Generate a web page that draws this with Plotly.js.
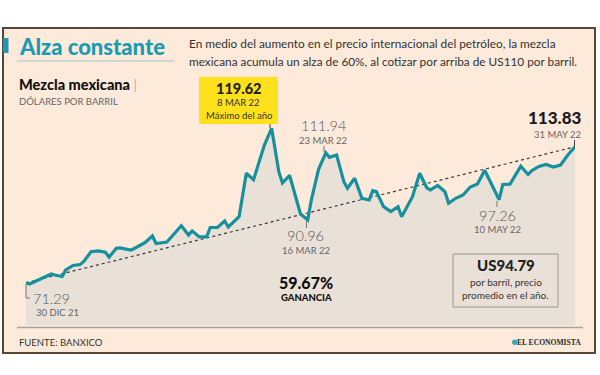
<!DOCTYPE html>
<html><head><meta charset="utf-8">
<script src="https://cdn.plot.ly/plotly-3.0.1.min.js"></script>
<style>html,body{margin:0;padding:0;background:#fff;}</style>
</head><body><div id="chart" style="width:600px;height:375px;"></div>
<script>
const dates = ['2021-12-30','2021-12-31','2022-01-03','2022-01-06','2022-01-07','2022-01-09','2022-01-10','2022-01-12','2022-01-14','2022-01-15',
'2022-01-17','2022-01-19','2022-01-21','2022-01-22','2022-01-24','2022-01-25','2022-01-28','2022-01-29','2022-01-31','2022-02-01',
'2022-02-03','2022-02-04','2022-02-07','2022-02-11','2022-02-13','2022-02-14','2022-02-16','2022-02-18','2022-02-19','2022-02-21',
'2022-02-23','2022-02-24','2022-02-27','2022-03-01','2022-03-03','2022-03-06','2022-03-08','2022-03-10','2022-03-11','2022-03-13',
'2022-03-16','2022-03-18','2022-03-19','2022-03-21','2022-03-23','2022-03-24','2022-03-26','2022-03-28','2022-03-29','2022-03-31',
'2022-04-02','2022-04-04','2022-04-05','2022-04-06','2022-04-08','2022-04-10','2022-04-12','2022-04-13','2022-04-16','2022-04-18',
'2022-04-20','2022-04-21','2022-04-23','2022-04-25','2022-04-26','2022-04-28','2022-04-30','2022-05-02','2022-05-04','2022-05-06',
'2022-05-10','2022-05-11','2022-05-13','2022-05-15','2022-05-16','2022-05-18','2022-05-19','2022-05-21','2022-05-23','2022-05-25',
'2022-05-27','2022-05-29','2022-05-31'];
const values = [71.29,70.89,72.45,74.02,73.70,73.24,75.27,76.68,76.99,77.93,
81.00,81.22,80.81,79.28,82.06,82.16,81.53,82.00,83.25,83.88,
85.91,83.56,84.03,89.14,86.22,87.48,85.60,85.60,88.57,88.57,
90.61,88.73,91.95,105.54,103.53,114.39,119.62,106.04,102.50,104.85,
92.80,90.96,97.18,106.79,111.94,110.54,111.26,102.91,100.84,103.97,
97.71,97.18,100.09,99.78,95.08,93.58,95.08,91.95,98.21,105.54,
100.93,100.31,101.72,99.78,96.15,97.71,98.74,101.25,102.19,106.47,
97.26,102.03,102.12,106.04,107.73,105.16,106.35,107.66,108.29,107.51,
108.13,111.26,113.83];

const title = 'Alza constante';
const subtitle = ['En medio del aumento en el precio internacional del petróleo, la mezcla',
                  'mexicana acumula un alza de 60%, al cotizar por arriba de US110 por barril.'];
const seriesName = 'Mezcla mexicana';
const unitLabel = 'DÓLARES POR BARRIL';
const maxLabel = ['119.62','8 MAR 22','Máximo del año'];
const labelMar23 = ['111.94','23 MAR 22'];
const labelMar16 = ['90.96','16 MAR 22'];
const labelMay10 = ['97.26','10 MAY 22'];
const labelEnd = ['113.83','31 MAY 22'];
const labelStart = ['71.29','30 DIC 21'];
const gainLabel = ['59.67%','GANANCIA'];
const avgLabel = ['US94.79','por barril, precio','promedio en el año.'];
const source = 'FUENTE: BANXICO';
const brand = 'EL ECONOMISTA';

const W = 600, H = 375;
const M = {l:26, r:25, t:100, b:50};
const pw = W - M.l - M.r, ph = H - M.t - M.b;
const px = X => (X - M.l) / pw;
const py = Y => (H - M.b - Y) / ph;

const TEAL = '#17909d';
const FF = 'Lato, "Noto Sans", sans-serif';

const traces = [
  {x: dates, y: values, type: 'scatter', mode: 'lines', fill: 'tozeroy',
   fillcolor: '#e9e1d8', line: {width: 0, color: 'rgba(0,0,0,0)'}, hoverinfo: 'skip'},
  {x: [dates[0], dates[dates.length-1]], y: [values[0], values[values.length-1]],
   type: 'scatter', mode: 'lines', line: {color: '#3a3a3a', width: 1.2, dash: 'dot'}, hoverinfo: 'skip'},
  {x: dates, y: values, type: 'scatter', mode: 'lines',
   line: {color: TEAL, width: 3.2, shape: 'linear'}}
];

function ann(text, X, Y, size, o) {
  o = o || {};
  return {text: text, x: px(X), y: py(Y), xref: 'paper', yref: 'paper', showarrow: false,
    xanchor: o.xa || 'center', yanchor: 'middle',
    font: {family: o.family || FF, size: size, color: o.color || '#222', weight: o.weight || 400}};
}
function rect(x0, y0, x1, y1, fill, line, lw, layer) {
  return {type: 'rect', xref: 'paper', yref: 'paper', x0: px(x0), x1: px(x1), y0: py(y0), y1: py(y1),
    fillcolor: fill, line: {color: line || 'rgba(0,0,0,0)', width: lw || 0}, layer: layer || 'below'};
}
function seg(x0, y0, x1, y1, color, w) {
  return {type: 'line', xref: 'paper', yref: 'paper', x0: px(x0), x1: px(x1), y0: py(y0), y1: py(y1),
    line: {color: color, width: w}, layer: 'above'};
}

const shapes = [
  rect(3, 28, 595, 353, '#fdeada', '#5b4636', 2),
  rect(3, 38, 8.5, 53, '#1a9bb3', null, 0, 'above'),
  seg(17, 61, 174, 61, '#9fc7cc', 1),
  seg(17, 327.5, 583, 327.5, '#aaa39b', 1.5),
  rect(199, 77, 278, 124, '#ffe11b', null, 0, 'above'),
  rect(453, 254, 558, 307, 'rgba(0,0,0,0)', '#9a948e', 1, 'above'),
  seg(270, 124, 270, 128, '#444', 1),
  seg(324, 146, 324, 152, '#777', 1),
  seg(306.5, 221, 306.5, 228, '#777', 1),
  seg(497, 201, 497, 207, '#777', 1),
  seg(574.5, 140, 574.5, 146, '#444', 1),
  seg(26, 284, 26, 298, '#777', 1),
  seg(26, 298, 30, 298, '#777', 1),
  {type: 'circle', xref: 'paper', yref: 'paper', x0: px(512), x1: px(517.5), y0: py(345), y1: py(339.5),
   fillcolor: '#3aa8b5', line: {width: 0}, layer: 'above'}
];

const annotations = [
  ann(title, 17, 46, 22, {xa: 'left', color: '#1a9bb3', weight: 900}),
  ann(subtitle[0], 187, 44, 11.8, {xa: 'left', color: '#333'}),
  ann(subtitle[1], 187, 61, 11.8, {xa: 'left', color: '#333'}),
  ann(seriesName + ' <span style="color:#888;font-weight:300">|</span>', 17, 84, 14.5, {xa: 'left', color: '#111', weight: 900}),
  ann(unitLabel, 17, 101, 9.5, {xa: 'left', color: '#666'}),
  ann(maxLabel[0], 238.5, 88, 14.5, {weight: 900, color: '#222'}),
  ann(maxLabel[1], 238.5, 102.5, 9.5, {color: '#333'}),
  ann(maxLabel[2], 238.5, 115, 9.5, {color: '#333'}),
  ann(labelMar23[0], 323, 125.5, 14.5, {color: '#555', weight: 300}),
  ann(labelMar23[1], 323, 140, 9.5, {color: '#666'}),
  ann(labelMar16[0], 305.5, 235.5, 14.5, {color: '#555', weight: 300}),
  ann(labelMar16[1], 306, 250, 9.5, {color: '#666'}),
  ann(labelMay10[0], 497, 215, 14.5, {color: '#555', weight: 300}),
  ann(labelMay10[1], 497.5, 229.5, 9.5, {color: '#666'}),
  ann(labelEnd[0], 583, 118, 17, {xa: 'right', color: '#1b1b1b', weight: 900}),
  ann(labelEnd[1], 583, 134, 9.5, {xa: 'right', color: '#666'}),
  ann(labelStart[0], 31, 298, 14.5, {xa: 'left', color: '#555', weight: 300}),
  ann(labelStart[1], 34, 312.5, 9.5, {xa: 'left', color: '#666'}),
  ann(gainLabel[0], 306, 282.5, 16, {color: '#111', weight: 900}),
  ann(gainLabel[1], 306, 297.5, 9.5, {color: '#111', weight: 900}),
  ann(avgLabel[0], 505.5, 265, 15, {color: '#222', weight: 900}),
  ann(avgLabel[1], 505.5, 282, 10, {color: '#333'}),
  ann(avgLabel[2], 505.5, 294.5, 10, {color: '#333'}),
  ann(source, 17, 342, 9.5, {xa: 'left', color: '#333'}),
  ann(brand, 583, 342, 7.6, {xa: 'right', color: '#2b2b2b', weight: 700, family: '"Liberation Serif", serif'})
];

const layout = {
  width: W, height: H, margin: M, showlegend: false,
  paper_bgcolor: '#ffffff', plot_bgcolor: 'rgba(0,0,0,0)',
  xaxis: {type: 'date', range: [dates[0], dates[dates.length-1]], visible: false, fixedrange: true},
  yaxis: {range: [58.05, 128.47], visible: false, fixedrange: true},
  shapes: shapes, annotations: annotations
};
Plotly.newPlot('chart', traces, layout, {displayModeBar: false, staticPlot: true});
</script></body></html>
